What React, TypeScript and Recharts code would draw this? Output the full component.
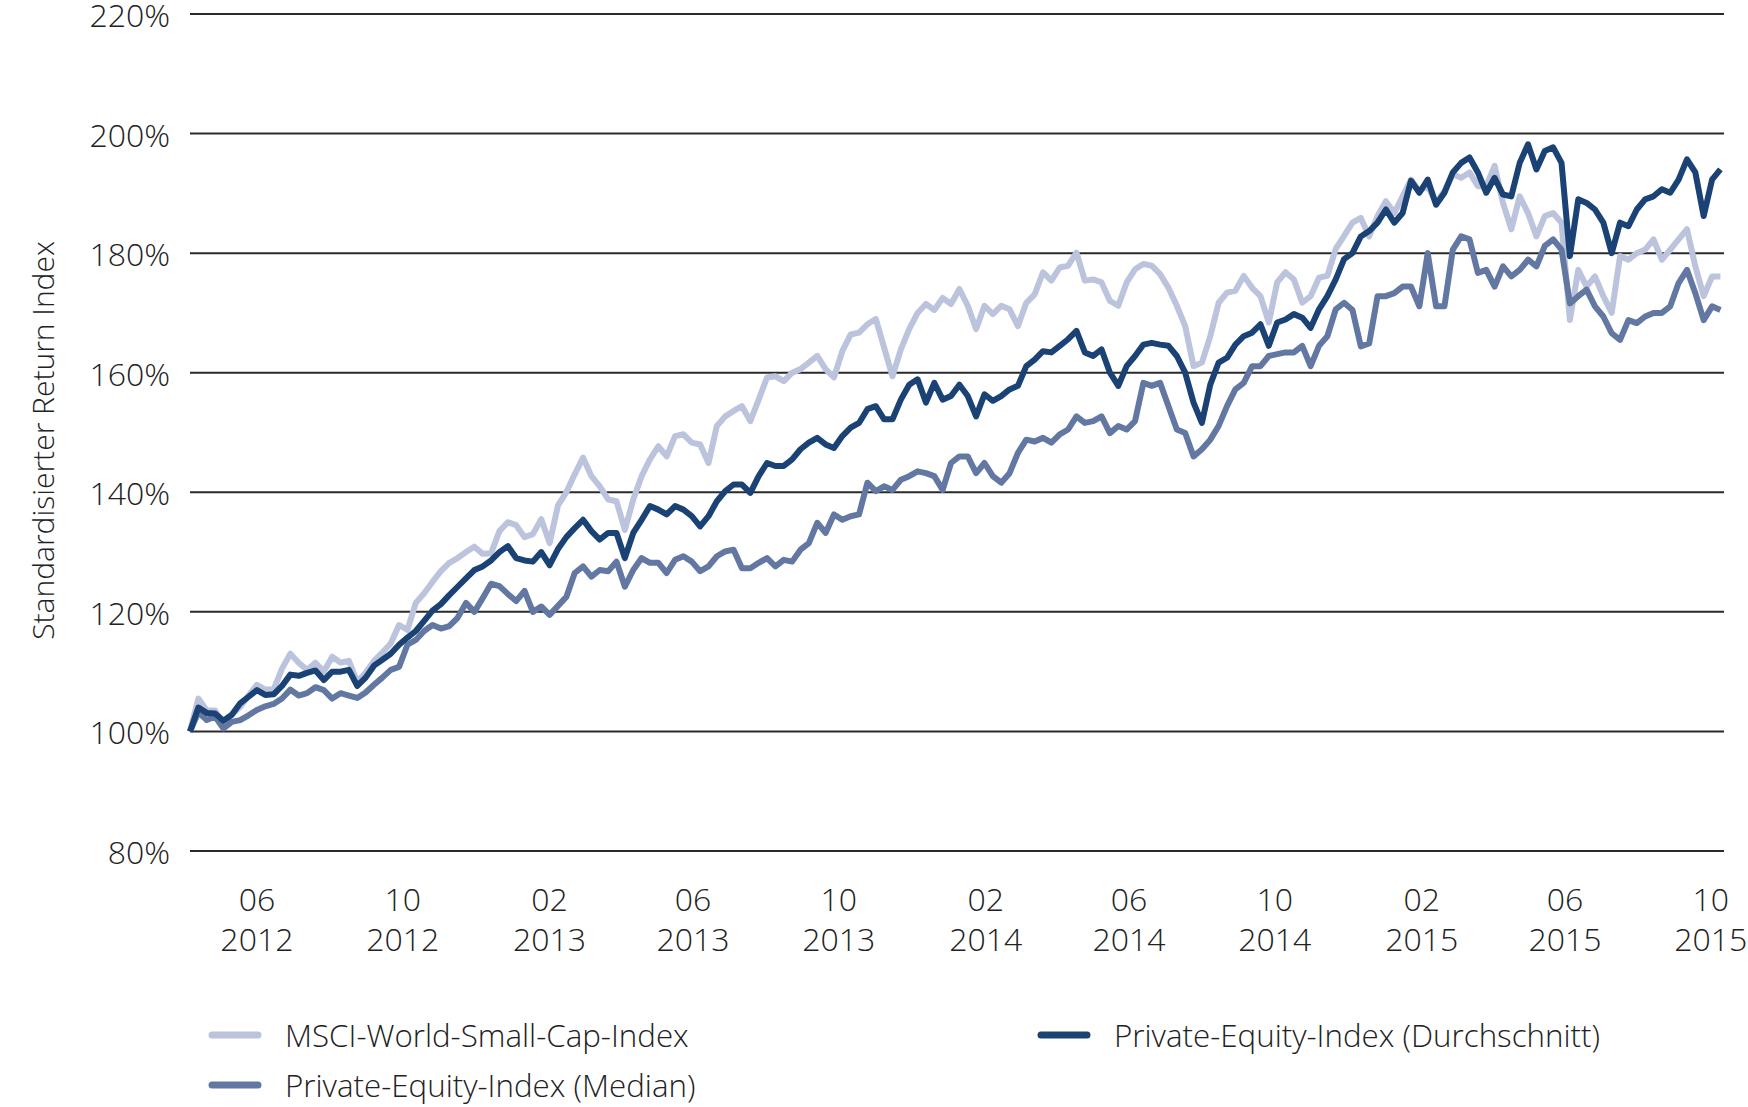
import { LineChart, Line, XAxis, YAxis, CartesianGrid, Label } from 'recharts';

const FONT = '"Open Sans", "Noto Sans", sans-serif';
const INK = '#222222';

// weekly closing values, first week = 06.04.2012
const START = Date.UTC(2012, 3, 6);
const WEEK = 7 * 24 * 3600 * 1000;
const END = Date.UTC(2015, 9, 12);

const msciSmallCap = [
  100, 105.5, 103.5, 103.5, 101.3, 102.8, 104.1, 106.0, 107.8, 107.0,
  107.0, 110.5, 113.0, 111.5, 110.3, 111.5, 110.0, 112.5, 111.5, 111.8,
  108.3, 109.8, 111.8, 113.2, 114.7, 117.8, 117.0, 121.5, 123.1, 125.0,
  126.8, 128.2, 129.0, 130.0, 130.9, 129.7, 129.8, 133.5, 135.0, 134.5,
  132.5, 133.0, 135.5, 131.5, 137.8, 140.0, 143.0, 145.8, 142.7, 141.0,
  138.8, 138.5, 133.7, 138.8, 142.7, 145.5, 147.7, 146.0, 149.4, 149.7,
  148.3, 148.0, 144.9, 151.1, 152.7, 153.6, 154.4, 151.9, 155.5, 159.2,
  159.4, 158.6, 160.0, 160.6, 161.7, 162.8, 160.6, 159.2, 163.6, 166.4,
  166.7, 168.1, 169.0, 164.2, 159.4, 163.9, 167.3, 170.0, 171.5, 170.5,
  172.5, 171.5, 174.0, 171.2, 167.3, 171.2, 169.8, 171.2, 170.6, 167.8,
  171.7, 173.1, 176.8, 175.4, 177.6, 177.9, 180.1, 175.4, 175.6, 175.1,
  172.0, 171.2, 175.1, 177.3, 178.2, 177.9, 176.5, 174.2, 171.2, 167.8,
  161.1, 161.7, 166.1, 171.7, 173.4, 173.7, 176.2, 174.2, 172.8, 168.4,
  175.1, 176.8, 175.6, 171.7, 172.8, 175.9, 176.2, 180.7, 182.9, 185.1,
  185.9, 182.8, 186.2, 188.7, 186.7, 189.5, 192.3, 190.4, 191.2, 188.4,
  190.4, 193.2, 192.6, 193.5, 191.2, 191.2, 194.6, 188.4, 184.0, 189.5,
  186.7, 182.8, 186.2, 186.7, 185.1, 168.8, 177.2, 174.4, 176.1, 172.8,
  170.0, 179.5, 178.9, 180.0, 180.6, 182.3, 178.9, 180.6, 182.3, 184.0,
  177.8, 172.8, 176.1, 176.1,
];

const peMedian = [
  100, 103.2, 101.9, 102.5, 100.5, 101.6, 101.9, 102.7, 103.6, 104.2,
  104.6, 105.5, 107.0, 106.0, 106.4, 107.4, 106.9, 105.5, 106.4, 106.0,
  105.6, 106.5, 107.8, 109.0, 110.3, 110.8, 114.5, 115.3, 116.8, 117.8,
  117.2, 117.6, 119.0, 121.5, 120.0, 122.3, 124.7, 124.3, 123.0, 121.8,
  123.5, 120.0, 120.9, 119.5, 121.0, 122.5, 126.5, 127.6, 125.9, 127.0,
  126.8, 128.4, 124.2, 127.0, 129.0, 128.2, 128.2, 126.5, 128.7, 129.3,
  128.4, 126.8, 127.6, 129.3, 130.1, 130.4, 127.3, 127.3, 128.2, 129.0,
  127.6, 128.7, 128.4, 130.4, 131.5, 134.9, 133.2, 136.3, 135.4, 136.0,
  136.3, 141.6, 140.2, 141.0, 140.4, 142.1, 142.7, 143.5, 143.2, 142.7,
  140.4, 144.9, 146.0, 146.0, 143.2, 144.9, 142.7, 141.6, 143.2, 146.6,
  148.8, 148.5, 149.1, 148.3, 149.7, 150.5, 152.7, 151.6, 151.9, 152.7,
  149.9, 151.1, 150.5, 151.9, 158.3, 157.8, 158.3, 154.4, 150.5, 149.9,
  146.0, 147.2, 148.8, 151.1, 154.4, 157.2, 158.3, 161.1, 161.1, 162.8,
  163.1, 163.4, 163.4, 164.5, 161.1, 164.5, 166.1, 170.6, 171.7, 170.5,
  164.4, 164.9, 172.8, 172.8, 173.3, 174.4, 174.4, 171.1, 180.0, 171.1,
  171.1, 180.6, 182.8, 182.3, 176.7, 177.2, 174.4, 177.8, 176.1, 177.2,
  178.9, 177.8, 181.2, 182.3, 180.6, 171.6, 172.8, 173.9, 171.1, 169.4,
  166.6, 165.5, 168.8, 168.3, 169.4, 170.0, 170.0, 171.1, 175.0, 177.2,
  173.3, 168.8, 171.1, 170.5,
];

const peAverage = [
  100, 104.0, 103.1, 103.0, 101.8, 102.8, 104.7, 105.8, 106.9, 106.1,
  106.2, 107.6, 109.5, 109.3, 109.8, 110.2, 108.6, 110.0, 110.0, 110.3,
  107.6, 109.0, 111.0, 112.0, 113.0, 114.5, 115.7, 116.8, 118.5, 120.2,
  121.3, 122.8, 124.2, 125.6, 127.0, 127.6, 128.6, 130.0, 131.0, 129.0,
  128.6, 128.4, 130.0, 127.8, 130.5, 132.5, 134.0, 135.4, 133.5, 132.1,
  133.2, 133.2, 129.0, 133.2, 135.4, 137.7, 137.1, 136.3, 137.7, 137.1,
  136.0, 134.3, 136.0, 138.5, 140.2, 141.3, 141.3, 139.9, 142.7, 144.9,
  144.4, 144.4, 145.5, 147.2, 148.3, 149.1, 148.0, 147.4, 149.4, 150.8,
  151.6, 153.9, 154.4, 152.2, 152.2, 155.5, 158.0, 158.9, 155.0, 158.3,
  155.5, 156.1, 158.0, 156.1, 152.7, 156.4, 155.3, 156.1, 157.2, 157.8,
  161.1, 162.2, 163.6, 163.4, 164.5, 165.6, 167.0, 163.4, 162.8, 163.9,
  160.0, 157.8, 161.1, 162.8, 164.7, 165.0, 164.7, 164.5, 162.8, 160.0,
  155.0, 151.6, 158.0, 161.7, 162.5, 164.7, 166.1, 166.7, 168.1, 164.5,
  168.4, 168.9, 169.8, 169.2, 167.5, 170.6, 172.8, 175.6, 179.0, 180.0,
  182.8, 183.7, 185.1, 187.3, 185.1, 186.7, 192.1, 190.1, 192.3, 188.1,
  190.1, 193.5, 195.1, 196.0, 193.5, 190.1, 192.6, 189.8, 189.5, 195.1,
  198.2, 194.0, 197.1, 197.7, 195.1, 179.5, 189.0, 188.4, 187.3, 185.1,
  180.0, 185.1, 184.5, 187.3, 189.0, 189.5, 190.7, 190.1, 192.3, 195.7,
  193.5, 186.2, 192.3, 194.0,
];

const xTicks = [
  '2012-06-01', '2012-10-01', '2013-02-01', '2013-06-01', '2013-10-01', '2014-02-01',
  '2014-06-01', '2014-10-01', '2015-02-01', '2015-06-01', '2015-10-01',
].map((s) => Date.parse(s));

const yTicks = [80, 100, 120, 140, 160, 180, 200, 220];

const series = [
  { key: 'msci', name: 'MSCI-World-Small-Cap-Index', color: '#bcc3dc' },
  { key: 'median', name: 'Private-Equity-Index (Median)', color: '#6377a3' },
  { key: 'avg', name: 'Private-Equity-Index (Durchschnitt)', color: '#1a4275' },
];

const data = msciSmallCap.map((v, i) => ({
  t: START + i * WEEK,
  msci: v,
  median: peMedian[i],
  avg: peAverage[i],
}));

function DateTick(props: any) {
  const { x, y, payload } = props;
  const d = new Date(payload.value);
  const mm = String(d.getUTCMonth() + 1).padStart(2, '0');
  return (
    <text x={x} y={y} textAnchor="middle" fill={INK} fontSize={32} fontFamily={FONT} fontWeight={300}>
      <tspan x={x} y={y + 52}>{mm}</tspan>
      <tspan x={x} y={y + 92}>{d.getUTCFullYear()}</tspan>
    </text>
  );
}

function ValueTick(props: any) {
  const { x, y, payload } = props;
  return (
    <text x={x} y={y + 13} textAnchor="end" fill={INK} fontSize={32} fontFamily={FONT} fontWeight={300}>
      {`${payload.value}%`}
    </text>
  );
}

function YTitle(props: any) {
  const vb = props.viewBox || { x: 20, y: 14, height: 837 };
  const cx = vb.x + 22;
  const cy = vb.y + vb.height / 2 + 8;
  return (
    <text
      x={cx}
      y={cy}
      transform={`rotate(-90 ${cx} ${cy})`}
      textAnchor="middle"
      dominantBaseline="central"
      fill={INK}
      fontSize={30}
      fontFamily={FONT}
      fontWeight={300}
    >
      Standardisierter Return Index
    </text>
  );
}

const legendPos = [
  { x: 208, y: 1035 },
  { x: 208, y: 1085 },
  { x: 1037, y: 1035 },
];

export default function App() {
  return (
    <div style={{ position: 'absolute', left: 0, top: 0, width: 1748, height: 1107, background: '#fff' }}>
      <LineChart
        width={1748}
        height={1107}
        data={data}
        margin={{ top: 14, right: 24, bottom: 156, left: 20 }}
      >
        <CartesianGrid vertical={false} stroke="#2a2a2a" strokeWidth={2} />
        <XAxis
          dataKey="t"
          type="number"
          domain={[START, END]}
          ticks={xTicks}
          axisLine={false}
          tickLine={false}
          height={100}
          interval={0}
          tick={<DateTick />}
        />
        <YAxis
          domain={[80, 220]}
          ticks={yTicks}
          width={170}
          axisLine={false}
          tickLine={false}
          tickMargin={14}
          interval={0}
          tick={<ValueTick />}
        >
          <Label content={<YTitle />} />
        </YAxis>
        {series.map((s) => (
          <Line
            key={s.key}
            type="linear"
            dataKey={s.key}
            name={s.name}
            stroke={s.color}
            strokeWidth={6}
            strokeLinejoin="round"
            dot={false}
            activeDot={false}
            isAnimationActive={false}
          />
        ))}
      </LineChart>
      <svg width={1748} height={1107} style={{ position: 'absolute', left: 0, top: 0, pointerEvents: 'none' }}>
        {series.map((s, i) => (
          <g key={s.key}>
            <line
              x1={legendPos[i].x + 4}
              x2={legendPos[i].x + 50}
              y1={legendPos[i].y}
              y2={legendPos[i].y}
              stroke={s.color}
              strokeWidth={7}
              strokeLinecap="round"
            />
            <text
              x={legendPos[i].x + 77}
              y={legendPos[i].y + 12}
              fill={INK}
              fontSize={31.3}
              fontFamily={FONT}
              fontWeight={300}
            >
              {s.name}
            </text>
          </g>
        ))}
      </svg>
    </div>
  );
}
